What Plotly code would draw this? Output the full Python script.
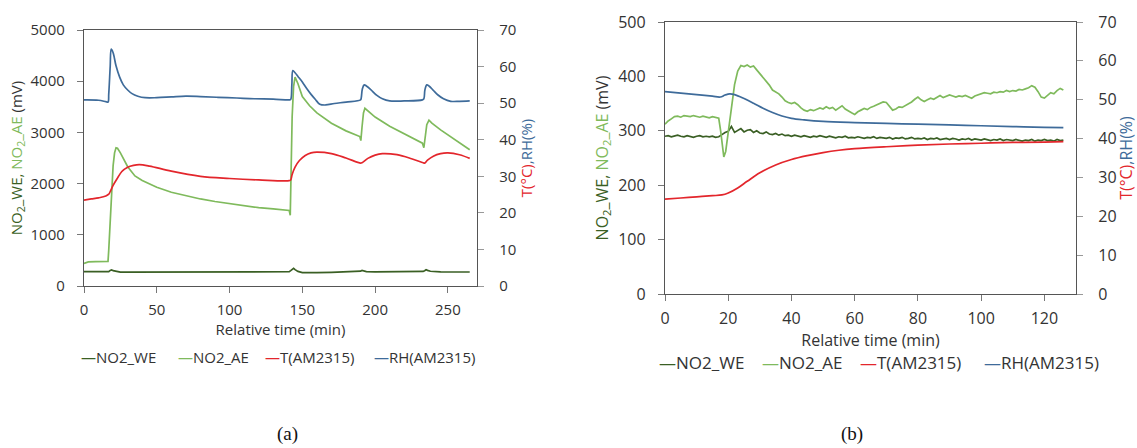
import plotly.graph_objects as go

# ---------------- (a) data ----------------
a_we_t = [0, 10, 17, 18, 19, 20, 22, 25, 30, 50, 80, 100, 120, 141, 142, 143, 144, 145, 147, 150, 155, 160, 170, 180, 189, 190, 191, 192, 194, 200, 215, 232, 233, 234, 235, 236, 238, 245, 255, 265]
a_we_v = [280, 282, 280, 305, 315, 300, 288, 272, 270, 274, 276, 275, 277, 279, 300, 330, 345, 320, 285, 262, 255, 260, 268, 272, 278, 290, 305, 295, 282, 275, 276, 279, 285, 300, 318, 305, 288, 276, 272, 273]

a_ae_t = [0, 3, 8, 16.5, 17, 18, 19, 20, 21, 22, 23, 25, 30, 35, 40, 50, 60, 70, 80, 90, 100, 110, 120, 130, 141, 141.7, 142.3, 143, 144, 145, 147, 150, 155, 160, 170, 180, 189.5, 190.2, 191, 192, 193, 195, 200, 210, 220, 232.5, 233.5, 234.5, 235.5, 237, 239, 245, 255, 265]
a_ae_v = [440, 470, 478, 480, 700, 1300, 1900, 2350, 2600, 2700, 2690, 2600, 2330, 2150, 2060, 1930, 1830, 1760, 1700, 1650, 1610, 1570, 1530, 1505, 1475, 1380, 2200, 3300, 3900, 4080, 3950, 3700, 3520, 3380, 3180, 3030, 2920, 2840, 3100, 3380, 3470, 3420, 3300, 3120, 2970, 2790, 2700, 2950, 3150, 3240, 3180, 3050, 2850, 2660]

a_t_t = [0, 5, 10, 15, 17, 18, 20, 23, 26, 30, 34, 38, 45, 60, 80, 100, 120, 141, 142, 143, 145, 148, 152, 156, 160, 170, 180, 190, 191, 195, 200, 205, 215, 225, 233, 234, 236, 240, 245, 250, 258, 265]
a_t_v = [23.5, 23.8, 24.1, 24.6, 25.1, 25.8, 27.5, 29.5, 31.3, 32.5, 33.0, 33.2, 32.8, 31.4, 30.0, 29.4, 29.0, 28.8, 29.0, 30.5, 32.5, 34.3, 35.7, 36.4, 36.6, 36.2, 35.0, 33.6, 33.7, 34.9, 35.8, 36.2, 35.9, 34.8, 33.7, 33.6, 34.4, 35.5, 36.2, 36.4, 35.9, 34.9]

a_rh_t = [0, 10, 15, 16.5, 17, 18, 18.7, 20, 22, 24.5, 27, 30, 33, 37, 42, 50, 60, 70, 80, 92, 105, 117, 130, 141, 142, 142.8, 143.5, 145, 147, 150, 153, 156, 159, 162, 166, 172, 180, 190, 190.5, 191.2, 192.5, 194, 197, 201, 205, 210, 220, 232.5, 233.5, 234.2, 235.5, 237, 240, 243, 247, 252, 258, 265]
a_rh_v = [50.9, 50.8, 50.4, 50.3, 52.5, 60.0, 64.8, 63.8, 60.2, 57.1, 55.0, 53.6, 52.6, 51.9, 51.5, 51.5, 51.7, 51.9, 51.8, 51.6, 51.4, 51.2, 51.1, 50.9, 51.0, 55.0, 58.9, 58.3, 57.3, 55.8, 54.0, 52.4, 51.0, 49.7, 49.5, 49.9, 50.3, 50.9, 51.5, 53.8, 55.0, 54.7, 53.7, 52.2, 51.2, 50.6, 50.6, 50.9, 51.2, 53.6, 55.0, 54.7, 53.5, 52.3, 51.2, 50.5, 50.5, 50.6]

# ---------------- (b) data ----------------
b_time = list(range(0, 127))
b_we_v = [290, 291, 289, 290, 292, 290, 289, 291, 290, 288, 290, 291, 289, 290, 289, 290, 288, 289,
          293, 297, 299, 308, 297, 301, 304, 298, 301, 302, 297, 300, 296, 295, 298, 294, 293, 295, 292, 294, 291, 292,
          290, 292, 290, 289, 291, 290, 288, 290, 289, 291, 289, 288, 290, 289, 287, 289, 288, 290, 287, 288,
          287, 289, 288, 286, 288, 287, 289, 286, 288, 287, 286, 288, 285, 287, 286, 288, 285, 286, 288, 285,
          286, 285, 287, 284, 286, 285, 287, 284, 285, 286, 284, 286, 285, 283, 285, 284, 286, 283, 285, 284,
          283, 285, 284, 282, 284, 283, 285, 282, 284, 283, 282, 284, 283, 281, 283, 282, 284, 281, 283, 282,
          284, 282, 283, 281, 284, 282, 283]
b_ae_t = [0, 1, 2, 3, 4, 5, 6, 7, 8, 9, 10, 11, 12, 13, 14, 15, 16, 17, 17.6, 18.2, 18.6, 19.2, 20, 21, 22, 23, 24, 25, 26, 27, 28, 29, 30,
          31, 32, 33, 34, 35, 36, 37, 38, 39, 40, 41, 42, 43, 44, 45, 46, 47, 48, 49, 50, 51, 52, 53, 54, 55, 56, 57, 58, 59, 60,
          61, 62, 63, 64, 65, 66, 67, 68, 69, 70, 71, 72, 73, 74, 75, 76, 77, 78, 79, 80, 81, 82, 83, 84, 85, 86, 87, 88, 89, 90,
          91, 92, 93, 94, 95, 96, 97, 98, 99, 100, 101, 102, 103, 104, 105, 106, 107, 108, 109, 110, 111, 112, 113, 114, 115, 116,
          117, 118, 119, 120, 121, 122, 123, 124, 125, 126]
b_ae_v = [312, 318, 322, 326, 327, 325, 328, 327, 326, 328, 327, 325, 327, 326, 324, 326, 325, 323, 300, 268, 252, 262, 300, 345, 385, 410, 420, 418, 421, 417, 419, 412, 405,
          398, 392, 384, 375, 372, 368, 362, 355, 352, 350, 352, 348, 342, 338, 336, 339, 337, 340, 342, 340, 344, 341, 343, 338, 342, 346, 340, 336, 333, 330,
          335, 338, 341, 339, 343, 345, 348, 350, 353, 352, 345, 338, 340, 344, 343, 346, 350, 353, 358, 362, 357, 354, 357, 360, 358, 362, 365, 361, 363, 366,
          364, 362, 364, 363, 365, 362, 360, 364, 366, 368, 370, 369, 368, 371, 370, 372, 371, 374, 372, 374, 373, 376, 375, 377, 379, 383,
          380, 372, 362, 360, 366, 370, 368, 374, 378, 375]

b_t_t = [0, 5, 10, 15, 18, 20, 23, 26, 30, 35, 40, 45, 50, 55, 60, 70, 80, 90, 100, 110, 120, 126]
b_t_v = [24.4, 24.7, 25.0, 25.3, 25.5, 26.0, 27.3, 29.0, 31.2, 33.2, 34.6, 35.6, 36.4, 37.0, 37.4, 37.9, 38.3, 38.6, 38.8, 39.0, 39.1, 39.2]

b_rh_t = [0, 5, 10, 15, 17.5, 19, 20.5, 22, 25, 28, 31, 34, 37, 40, 44, 50, 60, 70, 80, 90, 100, 110, 120, 126]
b_rh_v = [52.1, 51.7, 51.3, 50.9, 50.7, 51.2, 51.5, 51.3, 50.3, 49.1, 47.8, 46.7, 45.8, 45.2, 44.8, 44.4, 44.1, 43.9, 43.7, 43.5, 43.3, 43.1, 42.9, 42.8]

series_names = ["NO2_WE", "NO2_AE", "T(AM2315)", "RH(AM2315)"]
C_WE = "#3a5f24"
C_AE = "#7fba5c"
C_T = "#e3262c"
C_RH = "#3e6b9a"
colors = [C_WE, C_AE, C_T, C_RH]

fig = go.Figure()
lw = 1.7

def add(x, y, i, xa_, ya_, spline=False):
    fig.add_trace(go.Scatter(x=x, y=y, mode="lines", name=series_names[i], showlegend=False,
                             line=dict(color=colors[i], width=lw, shape="spline" if spline else "linear"),
                             xaxis=xa_, yaxis=ya_))

# (a)
add(a_we_t, a_we_v, 0, "x", "y")
add(a_ae_t, a_ae_v, 1, "x", "y")
add(a_t_t, a_t_v, 2, "x", "y2", True)
add(a_rh_t, a_rh_v, 3, "x", "y2", True)
# (b)
add(b_time, b_we_v, 0, "x2", "y3")
add(b_ae_t, b_ae_v, 1, "x2", "y3")
add(b_t_t, b_t_v, 2, "x2", "y4", True)
add(b_rh_t, b_rh_v, 3, "x2", "y4", True)

W, H = 1137, 448
FONT = "Open Sans"
TXT = "#333333"
axcol = "#555555"

left_title = ("<span style='color:%s'>NO<sub>2</sub>_WE, </span>"
              "<span style='color:%s'>NO<sub>2</sub>_AE</span>"
              "<span style='color:#333333'> (mV)</span>") % (C_WE, C_AE)
right_title = "<span style='color:%s'>T(°C)</span><span style='color:%s'>,RH(%%)</span>" % (C_T, C_RH)

def xa(dom, rng, dt, anchor, fs, tfs):
    return dict(domain=dom, range=rng, dtick=dt, tick0=0, showline=True, linecolor=axcol, linewidth=1.3,
                mirror=True, ticks="outside", ticklen=6, tickcolor="#777777", showgrid=False, zeroline=False,
                tickfont=dict(family=FONT, size=fs, color=TXT), anchor=anchor, ticklabelstandoff=4,
                title=dict(text="Relative time (min)", font=dict(family=FONT, size=tfs, color=TXT), standoff=2))

def xcross(dom, rng, dt, anchor, over):
    return dict(domain=dom, range=rng, dtick=dt, tick0=0, showline=False, ticks="inside", ticklen=5,
                tickcolor="#777777", showgrid=False, zeroline=False, showticklabels=False,
                anchor=anchor, overlaying=over)

def yl(dom, rng, dt, anchor, fs, tfs, standoff):
    return dict(domain=dom, range=rng, dtick=dt, tick0=0, showline=True, linecolor=axcol, linewidth=1.3,
                ticks="outside", ticklen=6, tickcolor="#777777", showgrid=False, zeroline=False,
                tickfont=dict(family=FONT, size=fs, color=TXT), anchor=anchor, ticklabelstandoff=9,
                title=dict(text=left_title, font=dict(family=FONT, size=tfs), standoff=standoff))

def yr(dom, rng, dt, anchor, over, fs, tfs, lstand, standoff):
    return dict(domain=dom, range=rng, dtick=dt, tick0=0, showline=True, linecolor=axcol, linewidth=1.3,
                ticks="outside", ticklen=6, tickcolor="#999999", showgrid=False, zeroline=False,
                tickfont=dict(family=FONT, size=fs, color=TXT), anchor=anchor, overlaying=over, side="right",
                ticklabelstandoff=lstand,
                title=dict(text=right_title, font=dict(family=FONT, size=tfs), standoff=standoff))

def ycross(dom, rng, dt, anchor, over):
    return dict(domain=dom, range=rng, dtick=dt, tick0=0, showline=False, ticks="inside", ticklen=5,
                tickcolor="#999999", showgrid=False, zeroline=False, showticklabels=False,
                anchor=anchor, overlaying=over, side="right")

xa_dom = [84 / W, 477 / W]
ya_dom = [1 - 286 / H, 1 - 30 / H]
xb_dom = [665 / W, 1076 / W]
yb_dom = [1 - 294 / H, 1 - 22 / H]

# legend entries (colored dash + series name), positioned under each panel
leg_a_x = [79, 176, 263, 372]
leg_b_x = [657, 760, 858, 982]
annotations = []
for xs, yy, fs in ((leg_a_x, 357, 15), (leg_b_x, 362, 17)):
    for i, name in enumerate(series_names):
        annotations.append(dict(text="<span style='color:%s'>—</span>%s" % (colors[i], name),
                                x=xs[i] / W, y=1 - yy / H, xref="paper", yref="paper",
                                xanchor="left", yanchor="middle", showarrow=False,
                                font=dict(family=FONT, size=fs, color=TXT)))
annotations += [
    dict(text="(a)", x=287 / W, y=1 - 434 / H, xref="paper", yref="paper", showarrow=False,
         xanchor="center", yanchor="middle",
         font=dict(family="Liberation Serif", size=19, color="#111111")),
    dict(text="(b)", x=852 / W, y=1 - 434 / H, xref="paper", yref="paper", showarrow=False,
         xanchor="center", yanchor="middle",
         font=dict(family="Liberation Serif", size=19, color="#111111")),
]

fig.update_layout(
    width=W, height=H, margin=dict(l=0, r=0, t=0, b=0, autoexpand=False),
    paper_bgcolor="white", plot_bgcolor="white", showlegend=False,
    xaxis=xa(xa_dom, [0, 270], 50, "y", 15, 15),
    yaxis=yl(ya_dom, [0, 5000], 1000, "x", 15, 15, 4),
    yaxis2=yr(ya_dom, [0, 70], 10, "x", "y", 15, 15, 12, 6),
    xaxis2=xa(xb_dom, [0, 130], 20, "y3", 16, 16),
    yaxis3=yl(yb_dom, [0, 500], 100, "x2", 16, 16, 5),
    yaxis4=yr(yb_dom, [0, 70], 10, "x2", "y3", 16, 16, 12, 4),
    xaxis3=xcross(xa_dom, [0, 270], 50, "y", "x"),
    xaxis4=xcross(xb_dom, [0, 130], 20, "y3", "x2"),
    yaxis5=ycross(ya_dom, [0, 70], 10, "x", "y"),
    yaxis6=ycross(yb_dom, [0, 70], 10, "x2", "y3"),
    annotations=annotations,
)

fig.write_html("out.html")
